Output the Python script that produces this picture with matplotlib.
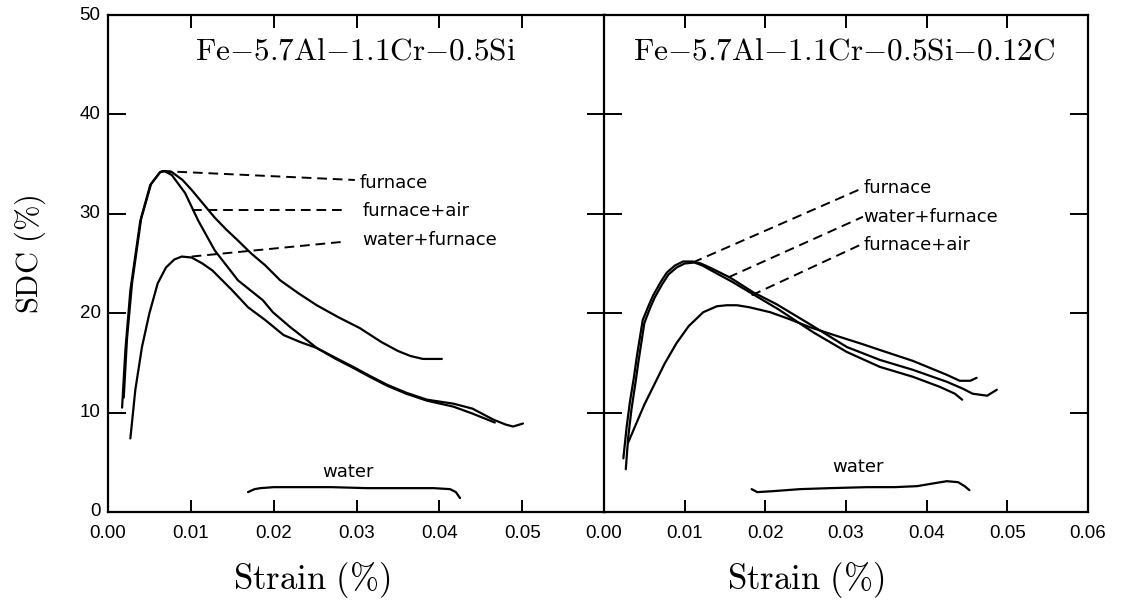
import matplotlib
matplotlib.use("Agg")
import matplotlib.pyplot as plt
from matplotlib.ticker import FixedLocator

plt.rcParams['mathtext.fontset'] = 'cm'

# ---------------- data (strain, SDC %) ----------------
# Left panel: Fe-5.7Al-1.1Cr-0.5Si
L_furnace_x = [0.0017, 0.0021, 0.0027, 0.0039, 0.0051, 0.0063, 0.0068, 0.0077, 0.0090, 0.0101,
               0.0115, 0.0129, 0.0143, 0.0157, 0.0173, 0.0190, 0.0208, 0.0230, 0.0252, 0.0278,
               0.0304, 0.0330, 0.0350, 0.0365, 0.0380, 0.0403]
L_furnace_y = [10.5, 16.3, 22.3, 29.3, 32.9, 34.2, 34.3, 34.2, 33.4, 32.4,
               31.0, 29.6, 28.4, 27.3, 26.0, 24.8, 23.3, 22.0, 20.8, 19.6,
               18.5, 17.1, 16.2, 15.7, 15.4, 15.4]

L_fa_x = [0.0019, 0.0023, 0.0029, 0.0040, 0.0052, 0.0063, 0.0068, 0.0077, 0.0093, 0.0109,
          0.0129, 0.0157, 0.0187, 0.0199, 0.0220, 0.0240, 0.0252, 0.0275, 0.0296, 0.0316,
          0.0337, 0.0360, 0.0385, 0.0417, 0.0440, 0.0467]
L_fa_y = [11.5, 17.5, 23.0, 29.5, 33.0, 34.2, 34.3, 33.9, 32.1, 29.3,
          26.3, 23.3, 21.3, 20.1, 18.6, 17.3, 16.5, 15.4, 14.5, 13.6,
          12.7, 11.9, 11.2, 10.6, 9.9, 9.0]

L_wf_x = [0.0027, 0.0033, 0.0041, 0.0050, 0.0060, 0.0070, 0.0080, 0.0089, 0.0101, 0.0114,
          0.0126, 0.0138, 0.0150, 0.0169, 0.0190, 0.0212, 0.0232, 0.0252, 0.0275, 0.0296,
          0.0316, 0.0337, 0.0360, 0.0385, 0.0417, 0.0440, 0.0465, 0.0480, 0.0489, 0.0501]
L_wf_y = [7.4, 12.3, 16.6, 20.0, 23.0, 24.6, 25.4, 25.7, 25.6, 25.0,
          24.3, 23.3, 22.3, 20.6, 19.3, 17.8, 17.1, 16.5, 15.5, 14.6,
          13.7, 12.8, 12.0, 11.3, 10.9, 10.4, 9.3, 8.8, 8.6, 8.9]

L_water_x = [0.0169, 0.0177, 0.0184, 0.0200, 0.0232, 0.0270, 0.0313, 0.0350, 0.0393, 0.0413, 0.0420, 0.0425]
L_water_y = [2.0, 2.3, 2.4, 2.5, 2.5, 2.5, 2.4, 2.4, 2.4, 2.3, 2.0, 1.4]

# Right panel: Fe-5.7Al-1.1Cr-0.5Si-0.12C
R_furnace_x = [0.0024, 0.0028, 0.0032, 0.0037, 0.0041, 0.0048, 0.0055, 0.0061, 0.0070, 0.0078,
               0.0088, 0.0098, 0.0110, 0.0120, 0.0131, 0.0156, 0.0185, 0.0214, 0.0255, 0.0301,
               0.0342, 0.0383, 0.0425, 0.0445, 0.0457, 0.0475, 0.0487]
R_furnace_y = [5.4, 8.5, 11.0, 13.5, 15.8, 19.3, 20.7, 21.8, 23.1, 24.1,
               24.8, 25.2, 25.2, 25.0, 24.6, 23.6, 22.1, 20.9, 18.9, 16.6,
               15.3, 14.3, 13.1, 12.4, 11.9, 11.7, 12.3]

R_wf_x = [0.0027, 0.0030, 0.0034, 0.0039, 0.0043, 0.0050, 0.0057, 0.0063, 0.0072, 0.0080,
          0.0090, 0.0100, 0.0112, 0.0122, 0.0133, 0.0158, 0.0187, 0.0216, 0.0259, 0.0301,
          0.0342, 0.0383, 0.0416, 0.0435, 0.0444]
R_wf_y = [4.3, 7.5, 10.3, 13.0, 15.3, 19.0, 20.5, 21.6, 22.9, 23.9,
          24.6, 25.0, 25.1, 24.8, 24.3, 23.2, 21.8, 20.4, 18.1, 16.1,
          14.6, 13.6, 12.6, 11.9, 11.3]

R_fa_x = [0.0030, 0.0040, 0.0050, 0.0061, 0.0075, 0.0090, 0.0105, 0.0123, 0.0140, 0.0152,
          0.0165, 0.0180, 0.0206, 0.0230, 0.0255, 0.0289, 0.0320, 0.0342, 0.0383, 0.0425,
          0.0441, 0.0454, 0.0462]
R_fa_y = [7.0, 8.9, 10.8, 12.6, 14.9, 17.0, 18.7, 20.1, 20.7, 20.8,
          20.8, 20.6, 20.1, 19.4, 18.6, 17.7, 16.9, 16.3, 15.2, 13.8,
          13.2, 13.2, 13.5]

R_water_x = [0.0183, 0.0190, 0.0210, 0.0243, 0.0280, 0.0326, 0.0360, 0.0388, 0.0410, 0.0425, 0.0439, 0.0447, 0.0453]
R_water_y = [2.3, 2.0, 2.1, 2.3, 2.4, 2.5, 2.5, 2.6, 2.9, 3.1, 3.0, 2.6, 2.2]

# Annotation leaders: (x0, y0, x1, y1) and labels
L_labels = ["furnace", "furnace+air", "water+furnace"]
L_leaders = [(0.0065, 34.3, 0.0298, 33.4), (0.0101, 30.4, 0.0289, 30.4), (0.0101, 25.7, 0.0286, 27.2)]
L_label_pos = [(0.0304, 33.1), (0.0307, 30.3), (0.0307, 27.4)]

R_labels = ["furnace", "water+furnace", "furnace+air"]
R_leaders = [(0.0110, 25.1, 0.0321, 32.6), (0.0154, 23.6, 0.0321, 29.7), (0.0183, 21.8, 0.0321, 27.0)]
R_label_pos = [(0.0322, 32.6), (0.0322, 29.7), (0.0322, 26.9)]

L_water_label = (0.0290, 4.0)
R_water_label = (0.0315, 4.5)

titles = [r'$\mathrm{Fe{-}5.7Al{-}1.1Cr{-}0.5Si}$', r'$\mathrm{Fe{-}5.7Al{-}1.1Cr{-}0.5Si{-}0.12C}$']
xtick_vals = [0.0, 0.01, 0.02, 0.03, 0.04, 0.05, 0.06]
ytick_vals = [0, 10, 20, 30, 40, 50]

# ---------------- figure ----------------
W, H = 1139, 611
fig = plt.figure(figsize=(W / 100, H / 100), dpi=100)
axL = fig.add_axes([108 / W, 1 - 512 / H, 497 / W, 497 / H])
axR = fig.add_axes([604 / W, 1 - 512 / H, 484 / W, 497 / H])

lw = 1.6
tickfont = dict(family='Liberation Sans', size=13.5)
labfont = dict(family='DejaVu Sans', size=13)

for ax in (axL, axR):
    ax.set_xlim(0, 0.06)
    ax.set_ylim(0, 50)
    for s in ax.spines.values():
        s.set_linewidth(1.6)
    ax.tick_params(axis='both', which='both', direction='in', top=True, right=True,
                   width=1.4, color='black')
    ax.tick_params(axis='x', length=9)
    ax.tick_params(axis='y', length=13)

axL.xaxis.set_major_locator(FixedLocator(xtick_vals[1:-1]))
axL.set_xticklabels([])
axL.yaxis.set_major_locator(FixedLocator(ytick_vals[1:-1]))
axL.set_yticklabels([])
axR.xaxis.set_major_locator(FixedLocator(xtick_vals[1:-1]))
axR.set_xticklabels([])
axR.yaxis.set_major_locator(FixedLocator(ytick_vals[1:-1]))
axR.set_yticklabels([])

# tick labels (shared boundary shows 0.00 of the right panel)
for v in xtick_vals[:-1]:
    axL.text(v, -1.3, f"{v:.2f}", ha='center', va='top', fontdict=tickfont, clip_on=False)
for v in xtick_vals:
    axR.text(v, -1.3, f"{v:.2f}", ha='center', va='top', fontdict=tickfont, clip_on=False)
for v in ytick_vals:
    axL.text(-0.0009, v, f"{v}", ha='right', va='center', fontdict=tickfont, clip_on=False)

# curves
kw = dict(color='black', lw=lw, solid_capstyle='round', solid_joinstyle='round')
for xs, ys in [(L_furnace_x, L_furnace_y), (L_fa_x, L_fa_y), (L_wf_x, L_wf_y), (L_water_x, L_water_y)]:
    axL.plot(xs, ys, **kw)
for xs, ys in [(R_furnace_x, R_furnace_y), (R_wf_x, R_wf_y), (R_fa_x, R_fa_y), (R_water_x, R_water_y)]:
    axR.plot(xs, ys, **kw)

# leaders and labels
dkw = dict(color='black', lw=1.4, dashes=(5, 3))
for ax, leaders, labels, pos in [(axL, L_leaders, L_labels, L_label_pos), (axR, R_leaders, R_labels, R_label_pos)]:
    for (x0, y0, x1, y1), lab, (tx, ty) in zip(leaders, labels, pos):
        ax.plot([x0, x1], [y0, y1], **dkw)
        ax.text(tx, ty, lab, ha='left', va='center', fontdict=labfont)

axL.text(L_water_label[0], L_water_label[1], "water", ha='center', va='center', fontdict=labfont)
axR.text(R_water_label[0], R_water_label[1], "water", ha='center', va='center', fontdict=labfont)

# panel titles
axL.text(0.497, 0.928, titles[0], transform=axL.transAxes, ha='center', va='center', fontsize=22.5)
axR.text(0.496, 0.928, titles[1], transform=axR.transAxes, ha='center', va='center', fontsize=22.5)

# axis labels
fig.text(30 / W, 1 - 254 / H, r'$\mathrm{SDC\ (\%)}$', rotation=90, ha='center', va='center', fontsize=22)
fig.text(312 / W, 1 - 580 / H, r'$\mathrm{Strain\ (\%)}$', ha='center', va='center', fontsize=25)
fig.text(806 / W, 1 - 580 / H, r'$\mathrm{Strain\ (\%)}$', ha='center', va='center', fontsize=25)

fig.savefig("out.png", dpi=100)
